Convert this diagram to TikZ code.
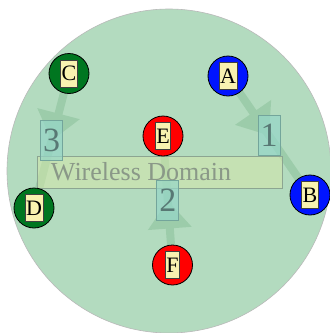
\documentclass[tikz,border=0pt]{standalone}
\usepackage{fontspec}
\setmainfont{Liberation Serif}
\usetikzlibrary{arrows.meta,decorations.markings,calc}
\pgfdeclarelayer{back}
\pgfdeclarelayer{flows}
\pgfsetlayers{back,flows,main}
\definecolor{domainbg}{RGB}{179,219,191}
\definecolor{flowcol}{RGB}{156,204,170}
\definecolor{wdfill}{RGB}{216,232,169}
\definecolor{wdtext}{RGB}{138,152,136}
\definecolor{wdedge}{RGB}{140,165,145}
\definecolor{lblfill}{RGB}{150,214,200}
\definecolor{lbledge}{RGB}{115,165,155}
\definecolor{lbltext}{RGB}{88,120,116}
\definecolor{tagfill}{RGB}{248,242,176}
\definecolor{devgreen}{RGB}{0,118,32}
\definecolor{devblue}{RGB}{0,20,255}
\definecolor{devred}{RGB}{255,0,0}
\tikzset{
  dev/.style={circle, draw=black, line width=0.8pt, minimum size=40pt, inner sep=0pt},
  tag/.style={rectangle, draw=black!75, line width=0.5pt, fill=tagfill, inner xsep=1pt, inner ysep=0pt,
    minimum height=27pt, text=black, font=\fontsize{22}{22}\selectfont},
  flow/.style={draw=flowcol, line width=8pt,
    postaction={decorate, decoration={markings,
      mark=at position 0.5 with {\arrow[flowcol]{Triangle[length=28pt,width=42pt]}}}}},
  lbl/.style={rectangle, draw=lbledge, line width=0.6pt, fill=lblfill, fill opacity=0.7, text opacity=1,
    text=lbltext, minimum width=22pt, minimum height=40pt, inner sep=0pt,
    font=\fontsize{34}{34}\selectfont},
  wdbox/.style={rectangle, draw=wdedge, line width=0.6pt, fill=wdfill, fill opacity=0.5, text opacity=1,
    text=wdtext, minimum width=245pt, minimum height=32pt, inner sep=0pt,
    font=\fontsize{26}{26}\selectfont}
}
\begin{document}
\begin{tikzpicture}[x=1pt,y=-1pt]
\useasboundingbox (0,0) rectangle (330,333);
\begin{pgfonlayer}{back}
\fill[white] (0,0) rectangle (330,333);
\path[fill=domainbg, draw=gray!55, line width=0.6pt] (169,171) circle[radius=162pt];
\end{pgfonlayer}
% devices
\foreach \n/\c/\p in {A/devblue/{(228,76)},B/devblue/{(310,195)},C/devgreen/{(69,73.5)},
                      D/devgreen/{(34,208)},E/devred/{(163,136)},F/devred/{(172.5,265)}}{
  \node[dev, fill=\c] (c\n) at \p {};
  \node[tag] (t\n) at (c\n) {\n};
}
\begin{pgfonlayer}{flows}
\draw[flow] (cA) -- (cB);
\draw[flow] (cC) -- (cD);
\draw[flow] (cF) -- (cE);
\node[wdbox] (wd) at (159.5,172) {\makebox[217pt][l]{Wireless Domain}};
\node[lbl] (l1) at ($(cA)!0.5!(cB)$) {1};
\node[lbl] (l2) at ($(cF)!0.5!(cE)$) {2};
\node[lbl] (l3) at ($(cC)!0.5!(cD)$) {3};
\end{pgfonlayer}
\end{tikzpicture}
\end{document}
